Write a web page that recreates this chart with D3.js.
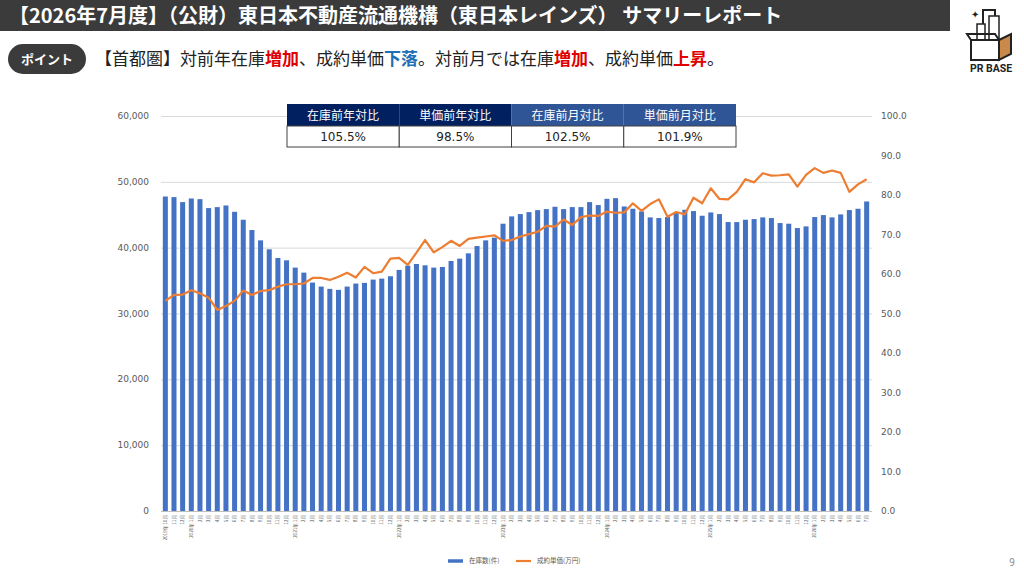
<!DOCTYPE html>
<html lang="ja">
<head>
<meta charset="UTF-8">
<title>サマリーレポート</title>
<script src="https://d3js.org/d3.v7.min.js"></script>
<style>
  body { margin: 0; background: #fff; }
  svg { display: block; font-family: "Noto Sans CJK JP", "Noto Sans", sans-serif; }
  .tick-l, .tick-r { fill: #595959; font-size: 9px; font-family: "DejaVu Sans", "Noto Sans", sans-serif; }
  .xlab { fill: #595959; font-size: 4.6px; }
</style>
</head>
<body>
<svg id="main" width="1024" height="576"></svg>
<script>
// ---- data ----
const months = [
  '2019年 10月','11月','12月',
  '2020年 1月','2月','3月','4月','5月','6月','7月','8月','9月','10月','11月','12月',
  '2021年 1月','2月','3月','4月','5月','6月','7月','8月','9月','10月','11月','12月',
  '2022年 1月','2月','3月','4月','5月','6月','7月','8月','9月','10月','11月','12月',
  '2023年 1月','2月','3月','4月','5月','6月','7月','8月','9月','10月','11月','12月',
  '2024年 1月','2月','3月','4月','5月','6月','7月','8月','9月','10月','11月','12月',
  '2025年 1月','2月','3月','4月','5月','6月','7月','8月','9月','10月','11月','12月',
  '2026年 1月','2月','3月','4月','5月','6月','7月'
];
// 在庫数(件)
const stock = [
  47770, 47680, 46920,
  47470, 47370, 46010, 46160, 46410, 45450, 44240, 42680, 41110, 39750, 38430, 38080,
  36970, 36210, 34700, 34090, 33740, 33590, 34090, 34550, 34650, 35150, 35300, 35660,
  36620, 37270, 37520, 37320, 36970, 37070, 37980, 38330, 39140, 40250, 41110, 41520,
  43640, 44750, 45100, 45400, 45700, 45860, 46210, 45860, 46160, 46160, 46920, 46470,
  47420, 47520, 46260, 45910, 45500, 44600, 44500, 44650, 45250, 45760, 45560, 44850,
  45350, 45100, 43890, 43890, 44240, 44340, 44600, 44500, 43740, 43640, 42980, 43230,
  44650, 44950, 44600, 45050, 45710, 45910, 47020
];
// 成約単価(万円)
const price = [
  53.2, 54.7, 54.8,
  55.9, 55.1, 54.0, 50.9, 51.9, 53.2, 55.8, 54.7, 55.7, 55.9, 56.8, 57.4,
  57.4, 57.6, 59.0, 59.0, 58.5, 59.3, 60.3, 59.1, 61.8, 60.2, 60.6, 63.9,
  64.1, 62.3, 65.4, 68.6, 65.5, 66.8, 68.4, 67.1, 68.9, 69.2, 69.5, 69.8,
  68.4, 68.6, 69.5, 70.1, 70.7, 72.2, 72.0, 73.8, 72.4, 74.4, 74.8, 74.7,
  75.8, 75.5, 75.6, 77.9, 76.0, 77.7, 78.9, 74.5, 75.7, 75.1, 79.3, 77.9,
  81.7, 79.0, 78.9, 80.8, 84.0, 83.2, 85.5, 84.9, 85.0, 85.2, 82.1, 85.1,
  86.8, 85.6, 86.2, 85.6, 80.8, 82.7, 84.0
];
const leftTicks = [0, 10000, 20000, 30000, 40000, 50000, 60000];
const rightTicks = [0, 10, 20, 30, 40, 50, 60, 70, 80, 90, 100];
const tableHeads = ['在庫前年対比', '単価前年対比', '在庫前月対比', '単価前月対比'];
const tableVals = ['105.5%', '98.5%', '102.5%', '101.9%'];
const seriesNames = ['在庫数(件)', '成約単価(万円)'];

const blue = '#4472C4', orange = '#ED7D31';
const svg = d3.select('svg#main');

// ---- page header ----
svg.append('rect').attr('x', 0).attr('y', 0).attr('width', 950).attr('height', 31).attr('fill', '#3b3b3b');
svg.append('text').attr('x', 9).attr('y', 23).attr('fill', '#fff')
  .attr('font-size', 20).attr('font-weight', 'bold')
  .text('【2026年7月度】（公財）東日本不動産流通機構（東日本レインズ） サマリーレポート');

svg.append('rect').attr('x', 8).attr('y', 44).attr('width', 78).attr('height', 30).attr('rx', 15)
  .attr('fill', '#3b3b3b');
svg.append('text').attr('x', 47).attr('y', 64).attr('text-anchor', 'middle').attr('fill', '#fff')
  .attr('font-size', 13).attr('font-weight', 'bold').text('ポイント');

const sub = svg.append('text').attr('x', 95).attr('y', 65).attr('font-size', 17).attr('fill', '#222');
[['【首都圏】対前年在庫', null], ['増加', '#e00000'], ['、成約単価', null], ['下落', '#1f6fb5'],
 ['。対前月では在庫', null], ['増加', '#e00000'], ['、成約単価', null], ['上昇', '#e00000'], ['。', null]]
  .forEach(function (p) {
    const t = sub.append('tspan').text(p[0]);
    if (p[1]) t.attr('fill', p[1]).attr('font-weight', 'bold');
  });

// logo
const logo = svg.append('g').attr('transform', 'translate(965,4)');
logo.append('rect').attr('x', 18).attr('y', 6).attr('width', 12).attr('height', 30).attr('fill', '#fff').attr('stroke', '#222').attr('stroke-width', 2);
logo.append('rect').attr('x', 24).attr('y', 12).attr('width', 10).attr('height', 24).attr('fill', '#fff').attr('stroke', '#222').attr('stroke-width', 1.5);
logo.append('rect').attr('x', 12).attr('y', 20).attr('width', 8).attr('height', 16).attr('fill', '#fff').attr('stroke', '#222').attr('stroke-width', 1.5);
logo.append('path').attr('d', 'M6,36 L34,36 L34,56 L6,56 Z').attr('fill', '#fff').attr('stroke', '#222').attr('stroke-width', 2);
logo.append('path').attr('d', 'M34,36 L46,30 L46,50 L34,56 Z').attr('fill', '#c8894a').attr('stroke', '#222').attr('stroke-width', 2);
logo.append('path').attr('d', 'M6,36 L2,30 L30,30 L34,36').attr('fill', 'none').attr('stroke', '#222').attr('stroke-width', 2);
logo.append('text').attr('x', 6).attr('y', 14).attr('font-size', 10).attr('fill', '#222').text('✦');
logo.append('text').attr('x', 26).attr('y', 68).attr('text-anchor', 'middle').attr('font-size', 10.5)
  .attr('font-weight', 'bold').attr('fill', '#222').attr('font-family', 'Roboto, sans-serif').text('PR BASE');

// ---- chart ----
// month labels repeat, so the band scale is keyed by position
const x = d3.scaleBand().domain(months.map((d, i) => i)).range([161, 871]).paddingInner(0.42).paddingOuter(0.21);
const yL = d3.scaleLinear().domain([0, 60000]).range([511, 116]);
const yR = d3.scaleLinear().domain([0, 100]).range([511, 116]);

svg.append('g').selectAll('line').data(leftTicks).join('line')
  .attr('x1', 161).attr('x2', 872)
  .attr('y1', d => yL(d) + 0.5).attr('y2', d => yL(d) + 0.5)
  .attr('stroke', d => d === 0 ? '#bfbfbf' : '#d9d9d9').attr('stroke-width', 1);

svg.append('g').selectAll('text').data(leftTicks).join('text').attr('class', 'tick-l')
  .attr('x', 149).attr('y', d => yL(d) + 3).attr('text-anchor', 'end')
  .text(d => d3.format(',')(d));
svg.append('g').selectAll('text').data(rightTicks).join('text').attr('class', 'tick-r')
  .attr('x', 881).attr('y', d => yR(d) + 3)
  .text(d => d3.format('.1f')(d));

svg.append('g').selectAll('rect').data(stock).join('rect')
  .attr('x', (d, i) => x(i)).attr('width', x.bandwidth())
  .attr('y', d => yL(d)).attr('height', d => yL(0) - yL(d)).attr('fill', blue);

const line = d3.line().x((d, i) => x(i) + x.bandwidth() / 2).y(d => yR(d));
svg.append('path').datum(price).attr('d', line).attr('fill', 'none')
  .attr('stroke', orange).attr('stroke-width', 2.2).attr('stroke-linejoin', 'round');

svg.append('g').selectAll('text').data(months).join('text').attr('class', 'xlab')
  .attr('text-anchor', 'end')
  .attr('transform', (d, i) => 'translate(' + (x(i) + x.bandwidth() / 2 + 1.6) + ',515) rotate(-90)')
  .text(d => d);

// ---- summary table ----
const colX = d3.scaleBand().domain(tableHeads).range([287, 736]);
const tbl = svg.append('g');
tbl.selectAll('rect.h').data(tableHeads).join('rect').attr('class', 'h')
  .attr('x', d => colX(d)).attr('y', 104).attr('width', colX.bandwidth()).attr('height', 22)
  .attr('fill', (d, i) => i < 2 ? '#002060' : '#2F5597');
tbl.selectAll('rect.v').data(tableHeads).join('rect').attr('class', 'v')
  .attr('x', d => colX(d)).attr('y', 126).attr('width', colX.bandwidth()).attr('height', 21)
  .attr('fill', '#fff').attr('stroke', '#404040').attr('stroke-width', 1);
tbl.selectAll('text.h').data(tableHeads).join('text').attr('class', 'h')
  .attr('x', d => colX(d) + colX.bandwidth() / 2).attr('y', 119.5).attr('text-anchor', 'middle')
  .attr('fill', '#fff').attr('font-size', 12).text(d => d);
tbl.selectAll('text.v').data(tableVals).join('text').attr('class', 'v')
  .attr('x', (d, i) => colX(tableHeads[i]) + colX.bandwidth() / 2).attr('y', 141).attr('text-anchor', 'middle')
  .attr('fill', '#222').attr('font-size', 12).attr('font-family', '"DejaVu Sans", sans-serif').text(d => d);

// ---- legend ----
const lg = svg.append('g');
[[448, blue], [516, orange]].forEach(function (p, i) {
  lg.append('line').attr('x1', p[0]).attr('x2', p[0] + 15).attr('y1', 561).attr('y2', 561)
    .attr('stroke', p[1]).attr('stroke-width', i === 0 ? 3.5 : 2.2);
  lg.append('text').attr('x', p[0] + 21).attr('y', 563).attr('font-size', 6.5).attr('fill', '#595959')
    .text(seriesNames[i]);
});

svg.append('text').attr('x', 1012).attr('y', 566).attr('text-anchor', 'middle')
  .attr('font-size', 10).attr('fill', '#888').text('9');
</script>
</body>
</html>
